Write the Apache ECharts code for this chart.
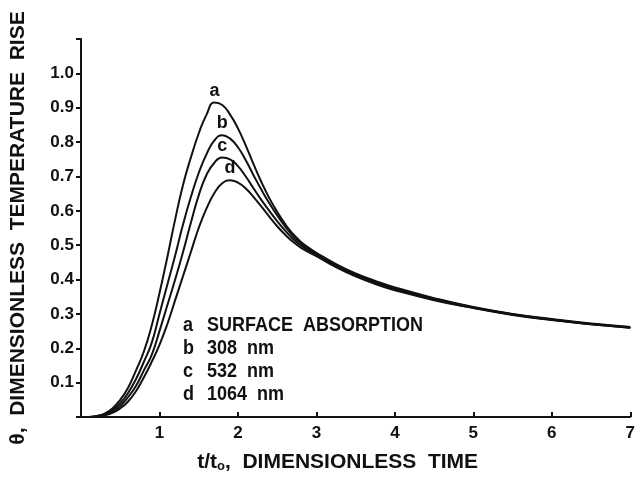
<!DOCTYPE html>
<html>
<head>
<meta charset="utf-8">
<script src="https://cdn.jsdelivr.net/npm/echarts@6/dist/echarts.min.js"></script>
<style>
  html, body { margin: 0; padding: 0; background: #fff; }
  #chart { width: 638px; height: 480px; }
</style>
</head>
<body>
<div id="chart"></div>
<script>
// t/t0 sample points
var times = [0, 0.1, 0.2, 0.3, 0.4, 0.5, 0.6, 0.7, 0.8, 0.9, 1.0, 1.1, 1.2, 1.3, 1.4, 1.5, 1.6, 1.7, 1.8, 1.9,
  2.0, 2.1, 2.2, 2.3, 2.4, 2.5, 2.6, 2.7, 2.8, 2.9, 3.0, 3.25, 3.5, 3.75, 4.0, 4.5, 5.0, 5.5, 6.0, 6.5, 7.0];

var curveA = [0, 0, 0.003, 0.01, 0.025, 0.05, 0.085, 0.135, 0.19, 0.265, 0.36, 0.465, 0.575, 0.675, 0.755, 0.825, 0.88, 0.915, 0.908, 0.88,
  0.84, 0.79, 0.735, 0.683, 0.637, 0.597, 0.562, 0.533, 0.51, 0.493, 0.478, 0.445, 0.418, 0.396, 0.377, 0.346, 0.32, 0.3, 0.285, 0.272, 0.262];
var curveB = [0, 0, 0.002, 0.008, 0.02, 0.04, 0.07, 0.11, 0.16, 0.215, 0.3, 0.385, 0.47, 0.56, 0.64, 0.71, 0.765, 0.805, 0.82, 0.81,
  0.785, 0.747, 0.703, 0.661, 0.622, 0.587, 0.555, 0.527, 0.506, 0.489, 0.475, 0.442, 0.415, 0.393, 0.374, 0.344, 0.319, 0.299, 0.284, 0.271, 0.261];
var curveC = [0, 0, 0.002, 0.006, 0.015, 0.032, 0.058, 0.09, 0.135, 0.18, 0.25, 0.325, 0.4, 0.48, 0.565, 0.645, 0.705, 0.74, 0.755, 0.75,
  0.73, 0.7, 0.665, 0.631, 0.6, 0.57, 0.543, 0.519, 0.5, 0.485, 0.472, 0.439, 0.412, 0.39, 0.372, 0.342, 0.318, 0.298, 0.283, 0.27, 0.26];
var curveD = [0, 0, 0.001, 0.005, 0.012, 0.025, 0.045, 0.075, 0.115, 0.16, 0.21, 0.27, 0.34, 0.41, 0.48, 0.55, 0.607, 0.652, 0.68, 0.689,
  0.682, 0.665, 0.64, 0.612, 0.583, 0.555, 0.531, 0.51, 0.493, 0.48, 0.468, 0.436, 0.409, 0.387, 0.369, 0.34, 0.317, 0.297, 0.282, 0.27, 0.26];

var curveNames = ["a", "b", "c", "d"];
var legendLines = ["SURFACE  ABSORPTION", "308  nm", "532  nm", "1064  nm"];

var xTicks = [0, 7, 1];      // min, max, interval
var yTicks = [0, 1.1, 0.1];

var FONT = "Liberation Sans, Arial, Helvetica, sans-serif";
var chart = echarts.init(document.getElementById("chart"));

function makeSeries(name, vals) {
  var pts = times.map(function (t, i) { return [t, vals[i]]; });
  var peak = pts.reduce(function (m, p) { return p[1] > m[1] ? p : m; }, pts[0]);
  return {
    name: name,
    type: "line",
    data: pts,
    smooth: 0.5,
    showSymbol: false,
    lineStyle: { color: "#111", width: 2 },
    markPoint: {
      symbol: "circle",
      symbolSize: 0,
      data: [{ coord: peak, value: name }],
      label: {
        show: true,
        position: "top",
        distance: 3,
        formatter: name,
        color: "#111",
        fontFamily: FONT,
        fontWeight: "bold",
        fontSize: 18
      }
    }
  };
}

var legendGraphics = [];
curveNames.forEach(function (n, i) {
  legendGraphics.push({
    type: "text", x: 183, y: 315 + i * 23, scaleY: 1.12,
    style: { text: n, font: "bold 18px " + FONT, fill: "#111" }
  });
  legendGraphics.push({
    type: "text", x: 207, y: 315 + i * 23, scaleY: 1.12,
    style: { text: legendLines[i], font: "bold 18px " + FONT, fill: "#111" }
  });
});

var option = {
  backgroundColor: "#fff",
  animation: false,
  grid: { left: 81, right: 5, top: 39, bottom: 63 },
  xAxis: {
    type: "value",
    min: xTicks[0],
    max: xTicks[1],
    interval: xTicks[2],
    name: "t/t{sub|o},  DIMENSIONLESS  TIME",
    nameLocation: "middle",
    nameGap: 35,
    nameTextStyle: {
      color: "#111",
      fontFamily: FONT,
      fontWeight: "bold",
      fontSize: 21,
      padding: [0, 36, 0, 0],
      rich: {
        sub: { fontFamily: FONT, fontWeight: "bold", fontSize: 13, verticalAlign: "bottom", padding: [8, 0, 0, 0], color: "#111" }
      }
    },
    axisLine: { lineStyle: { color: "#111", width: 2 } },
    axisTick: { inside: true, length: 5, lineStyle: { color: "#111", width: 2 } },
    axisLabel: {
      color: "#111",
      fontFamily: FONT,
      fontWeight: "bold",
      fontSize: 17,
      margin: 8,
      formatter: function (v) { return v === 0 ? "" : String(v); }
    },
    splitLine: { show: false }
  },
  yAxis: {
    type: "value",
    min: yTicks[0],
    max: yTicks[1],
    interval: yTicks[2],
    name: "θ,  DIMENSIONLESS  TEMPERATURE  RISE",
    nameLocation: "middle",
    nameRotate: 90,
    nameGap: 52,
    nameTextStyle: { color: "#111", fontFamily: FONT, fontWeight: "bold", fontSize: 21 },
    axisLine: { show: true, lineStyle: { color: "#111", width: 2 } },
    axisTick: { show: true, length: 5, lineStyle: { color: "#111", width: 2 } },
    axisLabel: {
      color: "#111",
      fontFamily: FONT,
      fontWeight: "bold",
      fontSize: 17,
      margin: 7,
      formatter: function (v) { return (v < 0.05 || v > 1.05) ? "" : v.toFixed(1); }
    },
    splitLine: { show: false }
  },
  series: [
    makeSeries("a", curveA),
    makeSeries("b", curveB),
    makeSeries("c", curveC),
    makeSeries("d", curveD)
  ],
  graphic: legendGraphics
};

chart.setOption(option);
</script>
</body>
</html>
